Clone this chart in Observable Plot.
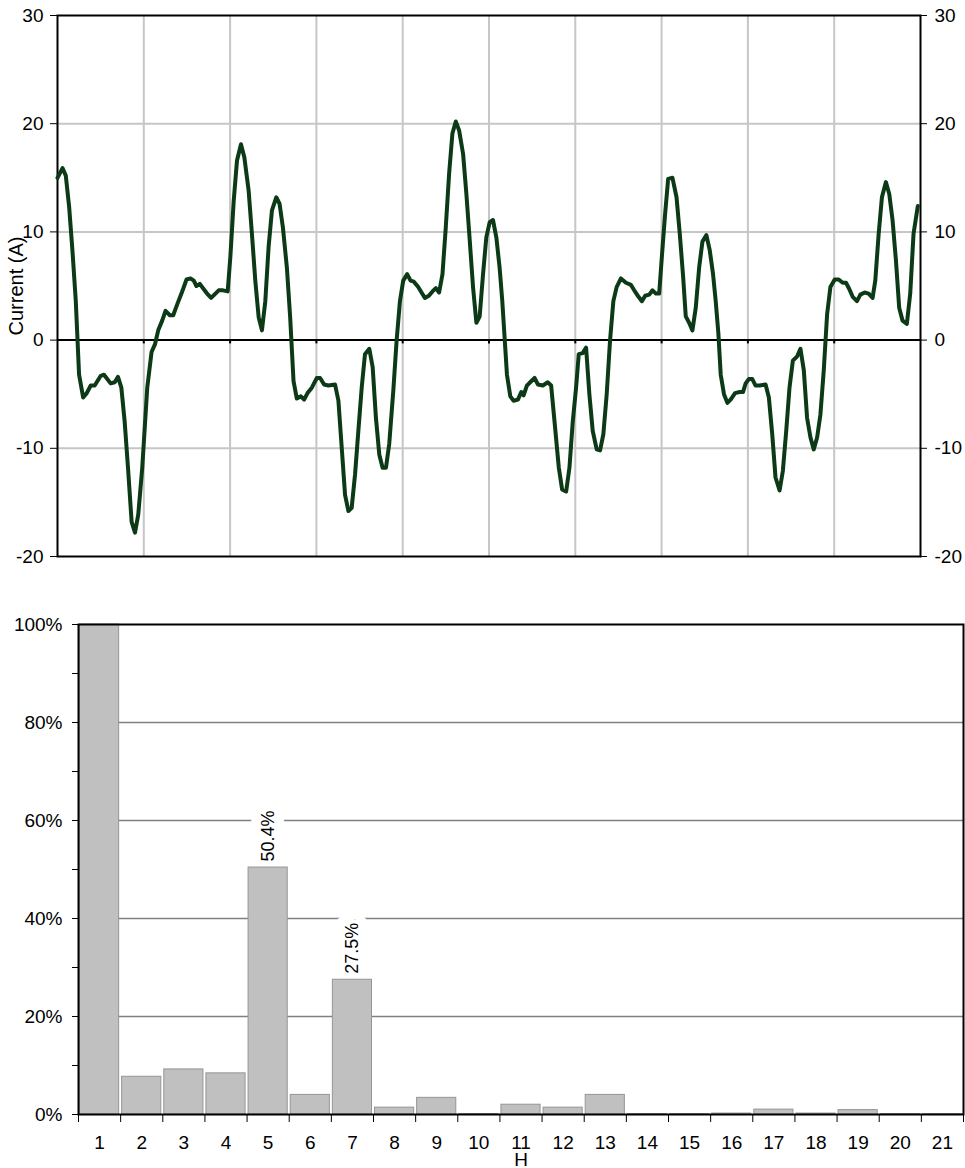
<!DOCTYPE html>
<html>
<head>
<meta charset="utf-8">
<script src="https://cdn.jsdelivr.net/npm/d3@7"></script>
<script src="https://cdn.jsdelivr.net/npm/@observablehq/plot@0.6"></script>
<style>
  body { margin: 0; background: #fff; }
  #wave, #spectrum { display: block; width: 965px; }
</style>
</head>
<body>
<div id="wave"></div>
<div id="spectrum"></div>
<script>
// Sampled load current, time in grid divisions (0–10), current in amperes
const time = [
  0.000,0.058,0.096,0.135,0.173,0.212,0.250,0.297,0.339,0.385,
  0.431,0.501,0.539,0.616,0.663,0.701,0.740,0.778,0.817,0.859,
  0.898,0.936,0.982,1.040,1.090,1.129,1.167,1.213,1.252,1.302,
  1.341,1.387,1.445,1.495,1.541,1.579,1.610,1.649,1.695,1.733,
  1.780,1.830,1.868,1.918,1.972,2.003,2.042,2.080,2.126,2.165,
  2.215,2.253,2.292,2.331,2.369,2.408,2.446,2.485,2.535,2.573,
  2.612,2.658,2.696,2.735,2.773,2.820,2.858,2.897,2.947,3.005,
  3.043,3.089,3.139,3.216,3.255,3.294,3.332,3.371,3.409,3.448,
  3.486,3.525,3.563,3.613,3.652,3.690,3.729,3.767,3.806,3.844,
  3.891,3.929,3.968,4.006,4.052,4.091,4.129,4.180,4.218,4.257,
  4.303,4.345,4.384,4.422,4.461,4.499,4.538,4.576,4.615,4.653,
  4.700,4.738,4.777,4.815,4.854,4.892,4.931,4.969,5.008,5.046,
  5.085,5.123,5.154,5.181,5.208,5.247,5.285,5.335,5.374,5.401,
  5.439,5.489,5.528,5.566,5.624,5.682,5.720,5.759,5.809,5.847,
  5.894,5.932,5.971,6.009,6.040,6.086,6.125,6.163,6.202,6.248,
  6.287,6.325,6.364,6.402,6.441,6.479,6.529,6.587,6.645,6.683,
  6.733,6.772,6.810,6.857,6.895,6.934,6.972,7.003,7.038,7.076,
  7.126,7.173,7.211,7.250,7.280,7.319,7.357,7.396,7.435,7.473,
  7.519,7.558,7.596,7.627,7.658,7.685,7.723,7.762,7.800,7.851,
  7.904,7.943,7.974,8.012,8.051,8.089,8.136,8.205,8.243,8.282,
  8.320,8.367,8.405,8.444,8.482,8.521,8.571,8.609,8.648,8.686,
  8.725,8.763,8.802,8.840,8.879,8.918,8.956,9.006,9.052,9.099,
  9.137,9.176,9.214,9.264,9.303,9.353,9.399,9.445,9.476,9.515,
  9.553,9.599,9.638,9.676,9.715,9.753,9.792,9.842,9.881,9.919,
  9.969
];
const current = [
  15.0,15.9,15.2,12.3,8.3,3.6,-3.2,-5.3,-4.9,-4.2,
  -4.2,-3.3,-3.2,-4.0,-3.9,-3.4,-4.4,-7.5,-11.8,-16.8,
  -17.8,-16.1,-11.8,-4.4,-1.1,-0.4,0.9,1.8,2.7,2.3,
  2.3,3.3,4.5,5.6,5.7,5.5,5.0,5.2,4.7,4.3,
  3.9,4.3,4.6,4.6,4.5,7.7,12.9,16.6,18.1,16.9,
  13.8,9.8,5.5,2.1,0.9,3.6,8.6,12.0,13.2,12.6,
  10.4,6.7,2.1,-3.8,-5.4,-5.2,-5.5,-4.9,-4.4,-3.5,
  -3.5,-4.1,-4.2,-4.1,-5.6,-10.0,-14.3,-15.8,-15.5,-12.4,
  -8.4,-4.4,-1.3,-0.8,-2.5,-7.2,-10.6,-11.8,-11.8,-9.6,
  -4.7,-0.1,3.6,5.5,6.1,5.5,5.4,4.9,4.4,3.9,
  4.1,4.5,4.8,4.4,6.1,10.4,15.4,19.1,20.2,19.4,
  17.2,13.5,9.2,4.9,1.6,2.2,6.1,9.5,10.9,11.1,
  9.5,6.7,3.6,0.2,-3.2,-5.2,-5.6,-5.5,-4.8,-5.1,
  -4.2,-3.8,-3.5,-4.1,-4.2,-3.9,-4.2,-7.5,-11.8,-13.8,
  -14.0,-11.8,-7.5,-4.4,-1.3,-1.2,-0.7,-5.0,-8.4,-10.1,
  -10.2,-8.7,-5.0,-0.1,3.6,4.9,5.7,5.3,5.1,4.6,
  4.0,3.6,4.1,4.2,4.6,4.3,4.3,7.7,11.4,14.9,
  15.0,13.2,9.8,5.8,2.2,1.6,0.9,3.0,6.7,9.1,
  9.7,8.3,6.1,3.6,0.6,-3.2,-5.0,-5.8,-5.5,-4.9,
  -4.8,-4.8,-4.0,-3.6,-3.6,-4.2,-4.2,-4.1,-5.3,-8.7,
  -12.7,-13.9,-12.1,-8.4,-4.4,-1.9,-1.5,-0.8,-2.8,-7.2,
  -9.0,-10.1,-9.0,-6.9,-2.8,2.4,4.9,5.6,5.6,5.3,
  5.3,4.7,4.0,3.6,4.2,4.4,4.3,3.9,5.5,9.8,
  13.2,14.6,13.5,11.1,7.4,3.0,1.8,1.5,4.3,9.8,
  12.4
];
const timeDivisions = [0, 1, 2, 3, 4, 5, 6, 7, 8, 9, 10];
const currentTicks = [-20, -10, 0, 10, 20, 30];

// Harmonic spectrum, magnitude as % of the fundamental
const harmonics = [1, 2, 3, 4, 5, 6, 7, 8, 9, 10, 11, 12, 13, 14, 15, 16, 17, 18, 19, 20, 21];
const magnitude = [100, 7.7, 9.2, 8.4, 50.4, 4.0, 27.5, 1.4, 3.4, 0.1, 2.0, 1.4, 4.0, 0.1, 0.1, 0.2, 1.0, 0.2, 0.9, 0.1, 0.1];
const labeledHarmonics = [5, 7];
const percentTicks = [0, 10, 20, 30, 40, 50, 60, 70, 80, 90, 100];
const percentGrid = [20, 40, 60, 80];

const font = "19px 'Liberation Sans', Arial, sans-serif";
const plain = (d) => String(d); // hyphen-minus for negatives

const waveRows = time.slice(0, Math.min(time.length, current.length)).map((t, k) => ({t, i: current[k]}));
const spectrumRows = harmonics.map((h, k) => ({h, v: magnitude[k]}));
const bandEdges = [...harmonics.map((h) => h - 0.5), harmonics[harmonics.length - 1] + 0.5];

const wave = Plot.plot({
  width: 965,
  height: 575,
  marginTop: 15,
  marginBottom: 19,
  marginLeft: 57,
  marginRight: 45,
  style: {font, color: "#000", background: "#fff", overflow: "visible"},
  x: {domain: [0, 10], axis: null},
  y: {domain: [-20, 30]},
  marks: [
    Plot.gridX(timeDivisions.slice(1, -1), {stroke: "#c6c6c6", strokeOpacity: 1, strokeWidth: 2}),
    Plot.gridY([-10, 10, 20], {stroke: "#c6c6c6", strokeOpacity: 1, strokeWidth: 2}),
    Plot.ruleY([0], {stroke: "#000", strokeWidth: 2}),
    Plot.ruleX(timeDivisions.slice(1, -1), {y1: 0, y2: -0.35, stroke: "#000", strokeWidth: 2}),
    Plot.frame({stroke: "#000", strokeWidth: 2}),
    Plot.line(waveRows, {x: "t", y: "i", stroke: "#0c3a16", strokeWidth: 4, strokeLinejoin: "round"}),
    Plot.axisY({anchor: "left", ticks: currentTicks, tickFormat: plain, tickSize: 7, tickPadding: 7, label: null}),
    Plot.axisY({anchor: "left", ticks: [], label: "Current (A)", labelAnchor: "center", labelOffset: 49, labelArrow: "none", fontSize: 20}),
    Plot.axisY({anchor: "right", ticks: currentTicks, tickFormat: plain, tickSize: 6, tickPadding: 8, label: null})
  ]
});
document.getElementById("wave").append(wave);

const spectrum = Plot.plot({
  width: 965,
  height: 593,
  marginTop: 49,
  marginBottom: 54,
  marginLeft: 78,
  marginRight: 2,
  style: {font, color: "#000", background: "#fff", overflow: "visible"},
  x: {domain: [0.5, 21.5], axis: null},
  y: {domain: [0, 100], axis: null},
  marks: [
    Plot.gridY(percentGrid, {stroke: "#808080", strokeOpacity: 1, strokeWidth: 1.5}),
    Plot.text(spectrumRows.filter((d) => labeledHarmonics.includes(d.h)), {
      x: "h", y: "v", text: (d) => d.v.toFixed(1) + "%",
      rotate: -90, textAnchor: "start", lineAnchor: "middle", dy: -6, fontSize: 18,
      fill: "#000", stroke: "#fff", strokeWidth: 20
    }),
    Plot.rectY(spectrumRows, {
      x1: (d) => d.h - 0.5, x2: (d) => d.h + 0.5, y1: 0, y2: "v",
      insetLeft: 1.5, insetRight: 1.5,
      fill: "#c0c0c0", stroke: "#959595", strokeWidth: 1
    }),
    Plot.frame({stroke: "#000", strokeWidth: 2}),
    Plot.axisY({ticks: percentTicks, tickFormat: (d) => (d % 20 ? "" : d + "%"), tickSize: 6, tickPadding: 10, label: null}),
    Plot.axisX({ticks: bandEdges, tickFormat: () => "", tickSize: 8, label: null}),
    Plot.axisX({ticks: harmonics, tickFormat: plain, tickSize: 0, tickPadding: 21, label: "H", labelAnchor: "center", labelOffset: 51, labelArrow: "none"})
  ]
});
document.getElementById("spectrum").append(spectrum);
</script>
</body>
</html>
